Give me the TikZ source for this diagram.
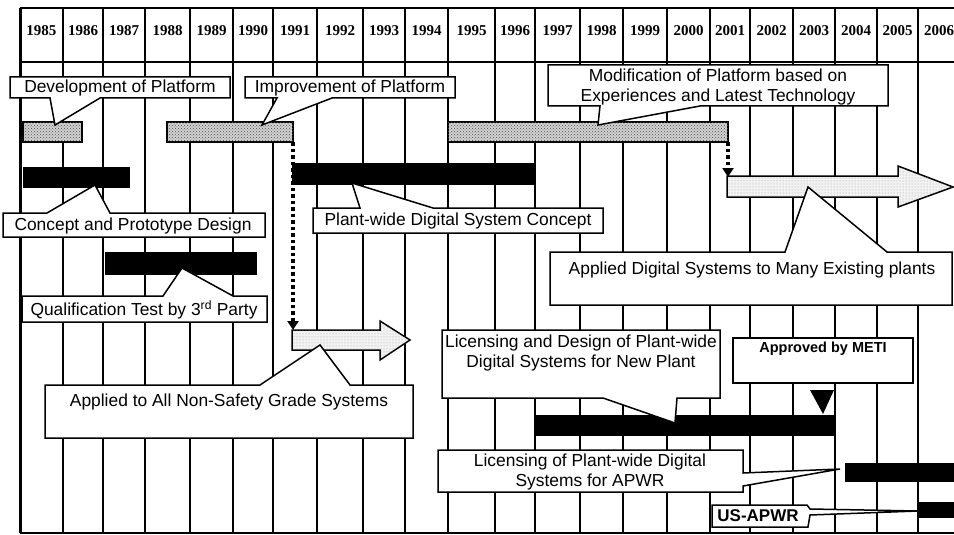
\documentclass[tikz,border=0pt]{standalone}
\usepackage{fontspec}
\setmainfont{Liberation Sans}
\newfontfamily\yrfont{Liberation Serif}
\usetikzlibrary{arrows.meta,patterns}

\begin{document}
\begin{tikzpicture}[x=1pt,y=-1pt]
  \tikzstyle{grille}=[line width=1.8pt]
  \tikzstyle{bulle}=[draw,fill=white,line width=1.5pt,line join=miter]
  \tikzstyle{txt}=[font=\fontsize{17.4}{20}\selectfont,align=center,inner sep=0pt]
  \tikzstyle{txtb}=[font=\bfseries\fontsize{14.5}{16}\selectfont,inner sep=0pt]
  \tikzstyle{an}=[font=\yrfont\bfseries\fontsize{15}{15}\selectfont,inner sep=0pt]
  \tikzstyle{gris}=[draw,line width=1.5pt,fill=gray!35,postaction={pattern=crosshatch dots,pattern color=black!70}]
  \tikzstyle{fleche}=[draw,line width=1.5pt,fill=gray!10,postaction={pattern=dots,pattern color=black!35}]
  \tikzstyle{pointille}=[line width=3.5pt,dash pattern=on 3.5pt off 3pt,-{Triangle[width=11pt,length=9pt]}]
  \useasboundingbox (0,0) rectangle (954,535);
  \clip (0,0) rectangle (954,535);
  % Grille des annees
  \foreach \x in {63,103,145,190,233,273,317,363,405,448,495,535,580,623,667,710,750,793,835,877,918}
    \draw[grille] (\x,8) -- (\x,533);
  \draw[grille] (20,8) -- (960,8);
  \draw[grille] (20,62) -- (960,62);
  \draw[grille] (20,533) -- (960,533);
  \draw[line width=3pt] (20,8) -- (20,533);
  \foreach \a/\b/\yr in {20/63/1985,63/103/1986,103/145/1987,145/190/1988,190/233/1989,233/273/1990,
      273/317/1991,317/363/1992,363/405/1993,405/448/1994,448/495/1995,495/535/1996,535/580/1997,
      580/623/1998,623/667/1999,667/710/2000,710/750/2001,750/793/2002,793/835/2003,835/877/2004,
      877/918/2005,918/960/2006}
    \node[an] (y\yr) at ({(\a+\b)/2},31) {\yr};
  % Barres de plateforme (grises)
  \draw[gris] (23,122) rectangle (82,142);
  \draw[gris] (167,122) rectangle (293,142);
  \draw[gris] (448,122) rectangle (728,142);
  % Barres noires
  \fill (23,167) rectangle (130,188);        % concept
  \fill (105,252) rectangle (257,275);       % qualification
  \fill (292,163) rectangle (535,185);       % plant-wide
  \fill (535,415) rectangle (835,436);       % new plant
  \fill (845,463) rectangle (960,482);       % APWR
  \fill (918,502) rectangle (960,518);       % US-APWR
  \fill (810,390) -- (834,390) -- (823,414) -- cycle; % METI
  % Fleches pointillees
  \coordinate (d1) at (293,142); \coordinate (f1) at (293,330);
  \coordinate (d2) at (728,142); \coordinate (f2) at (728,177);
  \draw[pointille] (d1) -- (f1);
  \draw[pointille] (d2) -- (f2);
  % Grosses fleches
  \draw[fleche] (292,330) -- (380,330) -- (380,321) -- (410,340) -- (380,360) -- (380,350) -- (292,350) -- cycle;
  \draw[fleche] (727,176) -- (898,176) -- (898,166) -- (953,187) -- (898,207) -- (898,197) -- (727,197) -- cycle;
  % Bulles
  \draw[bulle] (10,77) -- (230,77) -- (230,98) -- (100,98) -- (55,125) -- (50,98) -- (10,98) -- cycle;
  \draw[bulle] (245,77) -- (455,77) -- (455,98) -- (332,98) -- (262,125) -- (277,98) -- (245,98) -- cycle;
  \draw[bulle] (548,65) -- (888,65) -- (888,106) -- (700,106) -- (598,125) -- (600,106) -- (548,106) -- cycle;
  \draw[bulle] (3,213) -- (47,213) -- (95,185) -- (110,213) -- (265,213) -- (265,237) -- (3,237) -- cycle;
  \draw[bulle] (22,296) -- (163,296) -- (182,268) -- (233,296) -- (267,296) -- (267,322) -- (22,322) -- cycle;
  \draw[bulle] (313,208) -- (360,208) -- (352,183) -- (433,208) -- (603,208) -- (603,233) -- (313,233) -- cycle;
  \draw[bulle] (45,385) -- (260,385) -- (320,345) -- (350,385) -- (413,385) -- (413,438) -- (45,438) -- cycle;
  \draw[bulle] (550,252) -- (785,252) -- (808,187) -- (887,252) -- (952,252) -- (952,305) -- (550,305) -- cycle;
  \draw[bulle] (442,330) -- (720,330) -- (720,398) -- (677,398) -- (675,423) -- (603,398) -- (442,398) -- cycle;
  \draw[bulle] (733,338) rectangle (913,383);
  \draw[bulle] (438,450) -- (743,450) -- (743,473) -- (840,469) -- (743,486) -- (743,492) -- (438,492) -- cycle;
  \draw[bulle] (712,505) -- (807,505) -- (810,509) -- (918,511) -- (810,515) -- (808,527) -- (712,527) -- cycle;
  % Textes
  \node[txt] (dev) at (120,88) {Development of Platform};
  \node[txt] (imp) at (350,88) {Improvement of Platform};
  \node[txt] (mod) at (718,87) {Modification of Platform based on\\Experiences and Latest Technology};
  \node[txt] (cpt) at (133,226) {Concept and Prototype Design};
  \node[txt] (qual) at (144,310) {Qualification Test by 3\textsuperscript{rd} Party};
  \node[txt] (pwc) at (458,221) {Plant-wide Digital System Concept};
  \node[txt] (nsg) at (229,402) {Applied to All Non-Safety Grade Systems};
  \node[txt] (exist) at (752,270) {Applied Digital Systems to Many Existing plants};
  \node[txt] (newp) at (581,353) {Licensing and Design of Plant-wide\\Digital Systems for New Plant};
  \node[txtb] (meti) at (823,349) {Approved by METI};
  \node[txt] (apwr) at (590,472) {Licensing of Plant-wide Digital\\Systems for APWR};
  \node[txt,font=\bfseries\fontsize{17}{20}\selectfont] (usapwr) at (758,516) {US-APWR};
\end{tikzpicture}
\end{document}
